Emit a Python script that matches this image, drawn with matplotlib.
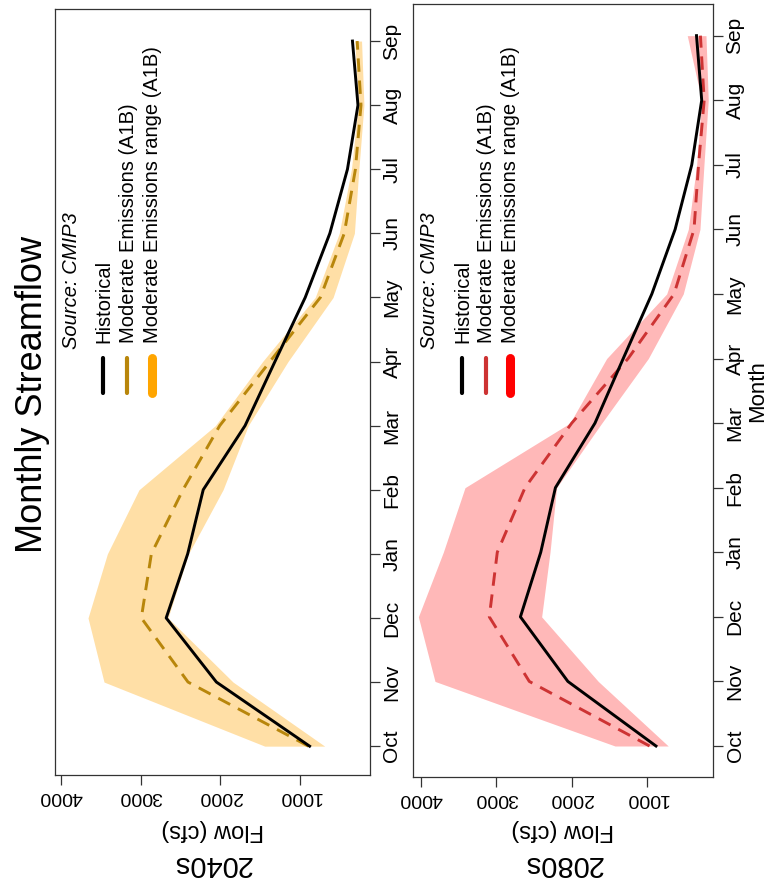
import matplotlib
matplotlib.use("Agg")
import matplotlib.pyplot as plt
from matplotlib.lines import Line2D

plt.rcParams['font.family'] = ['Liberation Sans', 'DejaVu Sans']

months = ['Oct', 'Nov', 'Dec', 'Jan', 'Feb', 'Mar', 'Apr', 'May', 'Jun', 'Jul', 'Aug', 'Sep']
flow_ticks = [1000, 2000, 3000, 4000]

historical = [880, 2050, 2680, 2410, 2215, 1690, 1315, 935, 626, 405, 273, 342]

a1b_2040 = [895, 2406, 2992, 2866, 2469, 2008, 1377, 745, 445, 305, 235, 283]
low_2040 = [690, 1841, 2657, 2400, 1966, 1650, 1151, 585, 318, 262, 198, 228]
high_2040 = [1443, 3460, 3661, 3418, 3021, 2063, 1470, 810, 508, 355, 270, 312]

a1b_2080 = [965, 2562, 3093, 2987, 2619, 1999, 1250, 640, 375, 315, 240, 290]
low_2080 = [717, 1646, 2398, 2287, 2200, 1600, 982, 518, 296, 243, 186, 216]
high_2080 = [1424, 3814, 4035, 3704, 3416, 2022, 1535, 738, 451, 340, 274, 465]

W, H = 775, 888
fig = plt.figure(figsize=(W / 100, H / 100), dpi=100)


def fx(x):
    return x / W


def fy(y):
    return 1 - y / H


panels = [
    dict(rect=[fx(54.7), fy(775), fx(370 - 54.7), (775 - 9) / H],
         xlim=(4079, 122), ylim=(-0.45, 11.5),
         mean=a1b_2040, low=low_2040, high=high_2040,
         line_color='#B8860B', band_color='#FFA500', band_alpha=0.35,
         period='2040s', left=54.7),
    dict(rect=[fx(413), fy(777), fx(300), (777 - 4) / H],
         xlim=(4106, 123), ylim=(-0.48, 11.49),
         mean=a1b_2080, low=low_2080, high=high_2080,
         line_color='#CD3333', band_color='#FF0000', band_alpha=0.28,
         period='2080s', left=413),
]

idx = list(range(len(months)))
for p in panels:
    ax = fig.add_axes(p['rect'])
    ax.fill_betweenx(idx, p['low'], p['high'], color=p['band_color'],
                     alpha=p['band_alpha'], lw=0)
    ax.plot(p['mean'], idx, color=p['line_color'], lw=2.1,
            dashes=(4.6, 3.0))
    ax.plot(historical, idx, color='black', lw=2.1)
    ax.set_xlim(*p['xlim'])
    ax.set_ylim(*p['ylim'])

    ax.set_xticks(flow_ticks)
    ax.set_xticklabels([str(v) for v in flow_ticks], rotation=180,
                       fontsize=14)
    ax.yaxis.tick_right()
    ax.set_yticks(idx)
    ax.set_yticklabels(months, rotation=90, va='center', fontsize=15)
    ax.tick_params(direction='out', length=7, width=0.9, pad=2,
                   color='#333333')
    for s in ax.spines.values():
        s.set_linewidth(0.9)
        s.set_color('#333333')

    cx = p['left'] + (p['rect'][2] * W) / 2
    fig.text(fx(cx), fy(830), 'Flow (cfs)', rotation=180, ha='center',
             va='center', fontsize=17)
    fig.text(fx(cx), fy(864), p['period'], rotation=180, ha='center',
             va='center', fontsize=21)

    # legend, written sideways inside the panel
    L = p['left']
    fig.text(fx(L + 16.5), fy(349), 'Source: CMIP3', rotation=90,
             ha='center', va='bottom', fontsize=14.5, style='italic')
    labels = ['Historical', 'Moderate Emissions (A1B)',
              'Moderate Emissions range (A1B)']
    colors = ['black', p['line_color'], p['band_color']]
    widths = [3.0, 3.0, 6.5]
    text_x = [49.5, 73.5, 98.0]
    for lab, col, lw, tx in zip(labels, colors, widths, text_x):
        fig.text(fx(L + tx), fy(343), lab, rotation=90, ha='center',
                 va='bottom', fontsize=14.5)
        fig.add_artist(Line2D([fx(L + tx - 1)] * 2, [fy(358), fy(393)],
                              color=col, lw=lw, solid_capstyle='round',
                              transform=fig.transFigure))

fig.text(fx(33), fy(394), 'Monthly Streamflow', rotation=90, ha='center',
         va='center', fontsize=26)
fig.text(fx(758), fy(391), 'Month', rotation=90, ha='center',
         va='center', fontsize=16)

fig.savefig('out.png', dpi=100, facecolor='white')
